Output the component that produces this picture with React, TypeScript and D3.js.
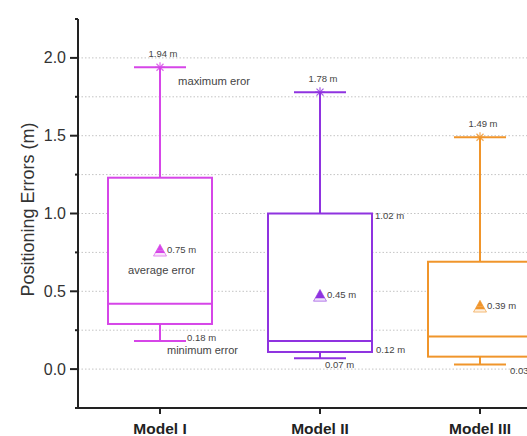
import React from "react";
import * as d3 from "d3";

const categories = ["Model I", "Model II", "Model III"];
const maxVals = [1.94, 1.78, 1.49];
const q3Vals = [1.23, 1.0, 0.69];
const medianVals = [0.42, 0.18, 0.21];
const q1Vals = [0.29, 0.11, 0.08];
const minVals = [0.18, 0.07, 0.03];
const meanVals = [0.76, 0.47, 0.4];
const colors = ["#d646e8", "#8f33e0", "#f0952b"];
const maxLabels = ["1.94 m", "1.78 m", "1.49 m"];
const meanLabels = ["0.75 m", "0.45 m", "0.39 m"];
const yTicks = [0, 0.5, 1.0, 1.5, 2.0];
const gridVals = [0, 0.25, 0.5, 0.75, 1.0, 1.25, 1.5, 1.75, 2.0];

const W = 527;
const H = 436;

export default function App() {
  const y = d3.scaleLinear().domain([-0.25, 2.25]).range([408, 19]);
  const x = d3.scaleBand<string>().domain(categories).range([80, 560]).padding(0);
  const cx = (c: string) => (x(c) as number) + x.bandwidth() / 2;
  const boxW = x.bandwidth() * 0.65;
  const capW = 52;
  const axisX = 78;
  const axisY = y(-0.25);
  const txt = "#444";
  const font = "Arial, 'Liberation Sans', sans-serif";

  return (
    <svg width={W} height={H} style={{ position: "absolute", left: 0, top: 0, background: "#fff" }} fontFamily={font}>
      {/* grid */}
      {gridVals.map((g) => (
        <line key={g} x1={axisX} x2={W} y1={y(g)} y2={y(g)} stroke="#c4c4c4" strokeWidth={1} strokeDasharray="1.5 2" />
      ))}
      {/* boxes */}
      {categories.map((c, i) => {
        const X = cx(c);
        const col = colors[i];
        const my = y(meanVals[i]);
        const s = 6.5;
        return (
          <g key={c}>
            <line x1={X} x2={X} y1={y(maxVals[i])} y2={y(q3Vals[i])} stroke={col} strokeWidth={2} />
            <line x1={X} x2={X} y1={y(q1Vals[i])} y2={y(minVals[i])} stroke={col} strokeWidth={2} />
            <line x1={X - capW / 2} x2={X + capW / 2} y1={y(maxVals[i])} y2={y(maxVals[i])} stroke={col} strokeWidth={2} />
            <line x1={X - capW / 2} x2={X + capW / 2} y1={y(minVals[i])} y2={y(minVals[i])} stroke={col} strokeWidth={2} />
            <rect x={X - boxW / 2} y={y(q3Vals[i])} width={boxW} height={y(q1Vals[i]) - y(q3Vals[i])} fill="#fff" stroke={col} strokeWidth={2} />
            <line x1={X - boxW / 2} x2={X + boxW / 2} y1={y(medianVals[i])} y2={y(medianVals[i])} stroke={col} strokeWidth={2} />
            {/* star at max */}
            <g stroke={col} strokeWidth={1.2} opacity={0.8}>
              <line x1={X - 5} x2={X + 5} y1={y(maxVals[i])} y2={y(maxVals[i])} />
              <line x1={X} x2={X} y1={y(maxVals[i]) - 5} y2={y(maxVals[i]) + 5} />
              <line x1={X - 3.5} x2={X + 3.5} y1={y(maxVals[i]) - 3.5} y2={y(maxVals[i]) + 3.5} />
              <line x1={X - 3.5} x2={X + 3.5} y1={y(maxVals[i]) + 3.5} y2={y(maxVals[i]) - 3.5} />
            </g>
            {/* mean marker */}
            <path d={`M${X},${my - s} L${X + s},${my + s * 0.8} L${X - s},${my + s * 0.8} Z`} fill={col} fillOpacity={0.15} stroke={col} strokeOpacity={0.6} strokeWidth={1} />
            <path d={`M${X},${my - s} L${X + s * 0.55},${my} L${X - s * 0.55},${my} Z`} fill={col} />
            <path d={`M${X - s * 0.55},${my} L${X + s * 0.55},${my} L${X + s * 0.75},${my + s * 0.35} L${X - s * 0.75},${my + s * 0.35} Z`} fill={col} />
            <text x={X + 3} y={y(maxVals[i]) - 10} fontSize={9.5} fill={txt} textAnchor="middle">{maxLabels[i]}</text>
            <text x={X + 7} y={my + 2} fontSize={9.5} fill={txt}>{meanLabels[i]}</text>
          </g>
        );
      })}
      {/* extra annotations */}
      <text x={cx("Model I") + 18} y={y(maxVals[0]) + 18} fontSize={10.5} fill={txt} textLength={72} lengthAdjust="spacingAndGlyphs">maximum eror</text>
      <text x={cx("Model I") - 32} y={y(meanVals[0]) + 23} fontSize={10.5} fill={txt} textLength={67} lengthAdjust="spacingAndGlyphs">average error</text>
      <text x={cx("Model I") + 27} y={y(minVals[0])} fontSize={9.5} fill={txt}>0.18 m</text>
      <text x={cx("Model I") + 7} y={y(minVals[0]) + 13} fontSize={10.5} fill={txt} textLength={71} lengthAdjust="spacingAndGlyphs">minimum error</text>
      <text x={cx("Model II") + boxW / 2 + 3} y={y(q3Vals[1]) + 5} fontSize={9.5} fill={txt}>1.02 m</text>
      <text x={cx("Model II") + boxW / 2 + 4} y={y(q1Vals[1]) + 1} fontSize={9.5} fill={txt}>0.12 m</text>
      <text x={cx("Model II") + 5} y={y(minVals[1]) + 10} fontSize={9.5} fill={txt}>0.07 m</text>
      <text x={cx("Model III") + 30} y={y(minVals[2]) + 10} fontSize={9.5} fill={txt}>0.03 m</text>
      {/* y axis */}
      <line x1={axisX} x2={axisX} y1={y(2.25)} y2={axisY} stroke="#222" strokeWidth={2} />
      {yTicks.map((t) => (
        <g key={t}>
          <line x1={axisX - 8} x2={axisX} y1={y(t)} y2={y(t)} stroke="#222" strokeWidth={2} />
          <text x={axisX - 12} y={y(t) + 5.5} fontSize={16} fill="#333" textAnchor="end">{t.toFixed(1)}</text>
        </g>
      ))}
      {[-0.25, 0.25, 0.75, 1.25, 1.75, 2.25].map((t) => (
        <line key={t} x1={axisX - 3} x2={axisX} y1={y(t)} y2={y(t)} stroke="#222" strokeWidth={2} />
      ))}
      <text transform={`translate(34, ${(y(2.25) + axisY) / 2 - 4}) rotate(-90)`} fontSize={18} fill="#333" textAnchor="middle">Positioning Errors (m)</text>
      {/* x axis */}
      <line x1={axisX - 1} x2={W} y1={axisY} y2={axisY} stroke="#222" strokeWidth={2} />
      {categories.map((c) => (
        <g key={c}>
          <line x1={cx(c)} x2={cx(c)} y1={axisY} y2={axisY + 6} stroke="#222" strokeWidth={2} />
          <text x={cx(c)} y={axisY + 26} fontSize={15.5} fontWeight="bold" fill="#222" textAnchor="middle">{c}</text>
        </g>
      ))}
    </svg>
  );
}
